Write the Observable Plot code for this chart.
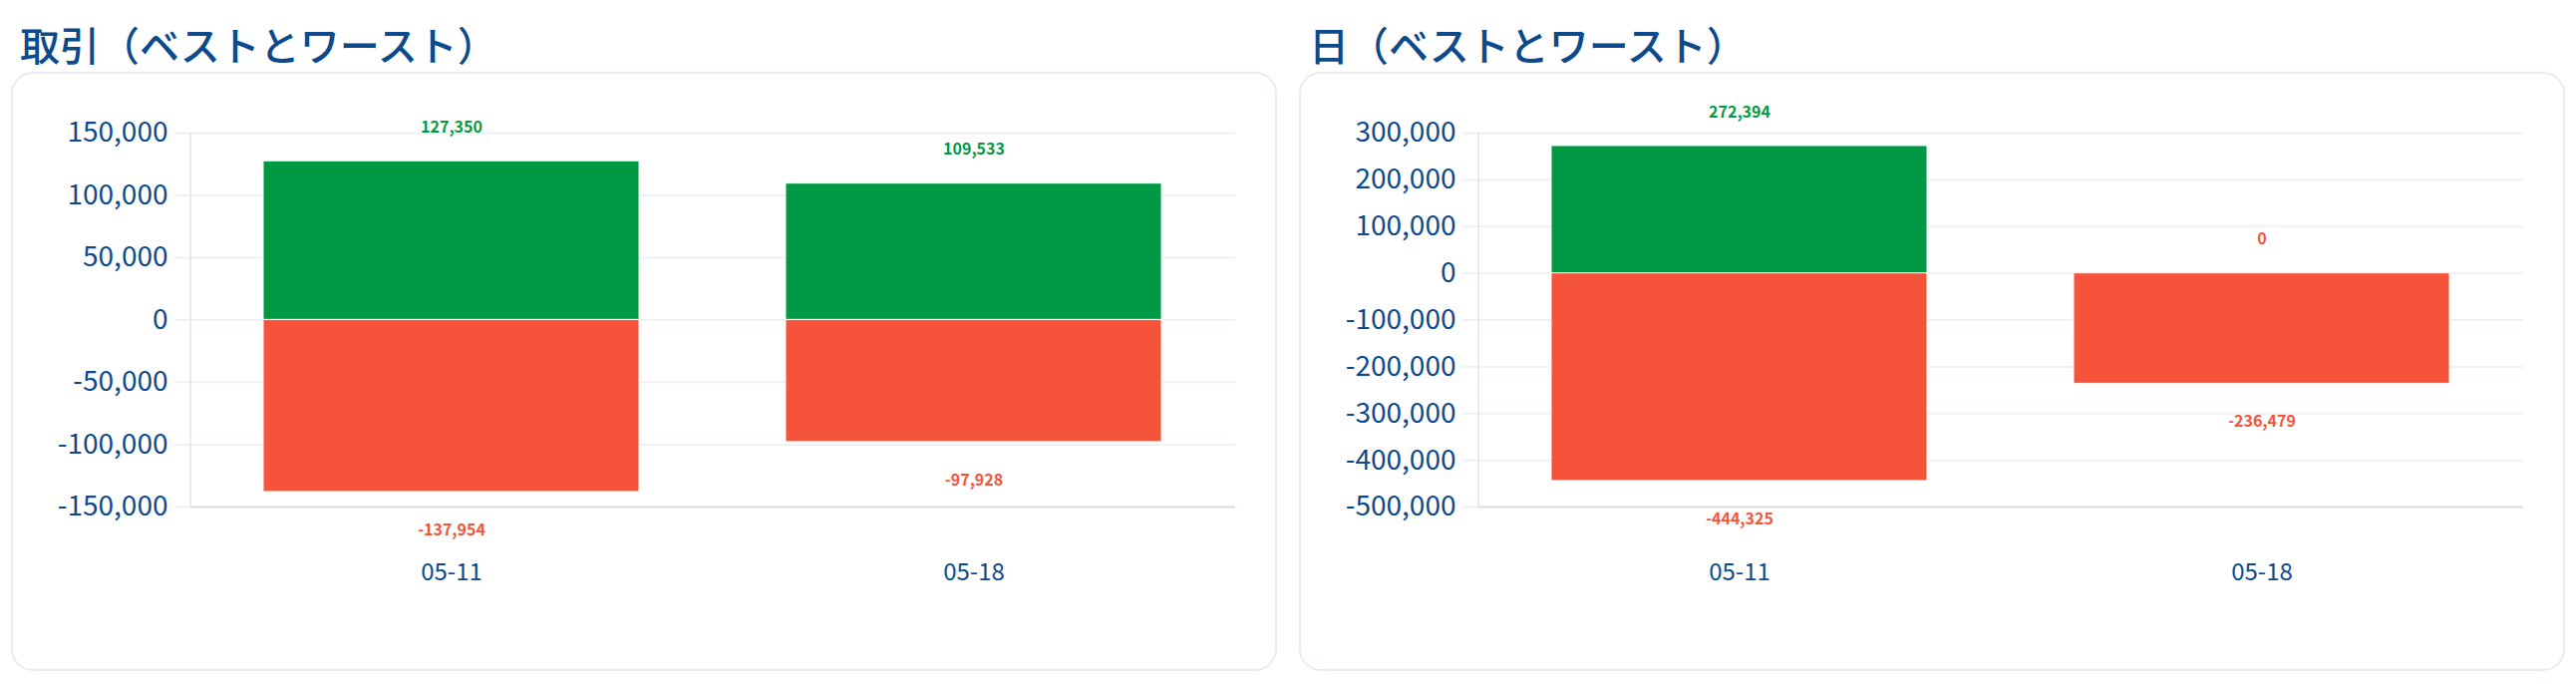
<!DOCTYPE html>
<html>
<head>
<meta charset="utf-8">
<script src="https://cdn.jsdelivr.net/npm/d3@7"></script>
<script src="https://cdn.jsdelivr.net/npm/@observablehq/plot@0.6"></script>
<style>
  html, body { margin: 0; padding: 0; background: #fff; }
  body { width: 2584px; height: 686px; position: relative; overflow: hidden;
         font-family: "Noto Sans CJK JP", "Noto Sans", sans-serif; }
  .title { position: absolute; top: 24px; font-size: 40px; font-weight: 500; line-height: 1; color: #0c4a8c; white-space: nowrap; }
  .card { position: absolute; top: 72px; width: 1270px; height: 601px; box-sizing: border-box;
          border: 2px solid #e6ecf2; border-radius: 22px; background: #fff; overflow: hidden; }
  .card svg { display: block; }
</style>
</head>
<body>
<div class="title" style="left:20px">取引（ベストとワースト）</div>
<div class="title" style="left:1313px">日（ベストとワースト）</div>
<div class="card" id="c1" style="left:11px"></div>
<div class="card" id="c2" style="left:1303px"></div>
<script>
const dates = ["05-11", "05-18"];
const tradeBest = [127350, 109533];
const tradeWorst = [-137954, -97928];
const tradeTicks = [-150000, -100000, -50000, 0, 50000, 100000, 150000];
const dayBest = [272394, 0];
const dayWorst = [-444325, -236479];
const dayTicks = [-500000, -400000, -300000, -200000, -100000, 0, 100000, 200000, 300000];

const GREEN = "#009a44";
const RED = "#f5543b";
const BLUE = "#0c4a8c";
const fmt = d => d.toLocaleString("en-US");

function chart(best, worst, ticks) {
  const bestRows = dates.map((d, i) => ({date: d, value: best[i]}));
  const worstRows = dates.map((d, i) => ({date: d, value: worst[i]}));
  const domain = [d3.min(ticks), d3.max(ticks)];
  const leftLine = (index, scales, values, dims) => {
    const l = d3.create("svg:line")
      .attr("x1", dims.marginLeft).attr("x2", dims.marginLeft)
      .attr("y1", dims.marginTop).attr("y2", dims.height - dims.marginBottom)
      .attr("stroke", "#dde4ec").attr("stroke-width", 1.5);
    return l.node();
  };
  return Plot.plot({
    width: 1266,
    height: 597,
    marginLeft: 178,
    marginRight: 40,
    marginTop: 59,
    marginBottom: 163,
    style: {fontFamily: "'Noto Sans CJK JP', 'Noto Sans', sans-serif", color: BLUE, background: "transparent", overflow: "visible"},
    color: {type: "identity"},
    x: {domain: dates, paddingInner: 0.28, paddingOuter: 0.14, label: null},
    y: {domain, label: null},
    marks: [
      Plot.gridY(ticks, {stroke: "#edf1f6", strokeOpacity: 1, strokeWidth: 2}),
      Plot.axisY(ticks, {tickSize: 16, tickPadding: 7, stroke: "#edf1f6", strokeWidth: 2, fill: BLUE,
                          fontSize: 28, tickFormat: fmt, label: null}),
      Plot.axisX({tickSize: 0, tickPadding: 56, fill: BLUE, fontSize: 24, label: null}),
      leftLine,
      Plot.ruleY([domain[0]], {stroke: "#d8dfe7", strokeWidth: 2}),
      Plot.barY(bestRows, {x: "date", y: "value", fill: GREEN, stroke: "#ffffff", strokeWidth: 1.2, strokeOpacity: 0.8}),
      Plot.barY(worstRows, {x: "date", y: "value", fill: RED, stroke: "#ffffff", strokeWidth: 1.2, strokeOpacity: 0.8}),
      Plot.text(bestRows, {x: "date", y: "value", text: d => fmt(d.value), dy: -34, lineAnchor: "middle",
                           fill: d => d.value > 0 ? GREEN : RED, fontWeight: 700, fontSize: 16}),
      Plot.text(worstRows, {x: "date", y: "value", text: d => fmt(d.value), dy: 38, lineAnchor: "middle",
                            fill: d => d.value > 0 ? GREEN : RED, fontWeight: 700, fontSize: 16})
    ]
  });
}

document.getElementById("c1").append(chart(tradeBest, tradeWorst, tradeTicks));
document.getElementById("c2").append(chart(dayBest, dayWorst, dayTicks));
</script>
</body>
</html>
